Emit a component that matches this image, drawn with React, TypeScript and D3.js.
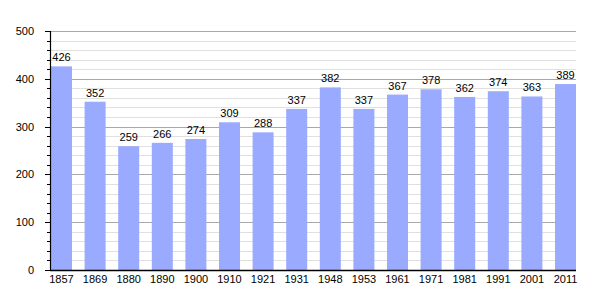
import React from "react";
import * as d3 from "d3";

const years = ["1857","1869","1880","1890","1900","1910","1921","1931","1948","1953","1961","1971","1981","1991","2001","2011"];
const population = [426,352,259,266,274,309,288,337,382,337,367,378,362,374,363,389];
const yTicks = [0,100,200,300,400,500];

export default function App() {
  const W = 605, H = 300;
  const left = 50, right = 576, top = 31, bottom = 270;
  const x = d3.scaleBand<string>().domain(years).range([left + 1, right]).paddingInner(0.375).paddingOuter(0);
  const y = d3.scaleLinear().domain([0, 500]).range([bottom, top]);
  const minor = d3.range(0, 501, 20);
  const font = "'Liberation Sans', Arial, sans-serif";
  return (
    <svg width={W} height={H} style={{ position: "absolute", left: 0, top: 0, background: "#fff" }}>
      {minor.filter(v => v % 100 !== 0).map(v => (
        <line key={"g" + v} x1={left} x2={right} y1={Math.round(y(v)) + 0.5} y2={Math.round(y(v)) + 0.5} stroke="#e0e0e0" strokeWidth={1} />
      ))}
      {yTicks.filter(v => v !== 0).map(v => (
        <line key={"G" + v} x1={left} x2={right} y1={Math.round(y(v)) + 0.5} y2={Math.round(y(v)) + 0.5} stroke="#a8a8a8" strokeWidth={1} />
      ))}
      {years.map((yr, i) => (
        <rect key={yr} x={x(yr)} y={y(population[i])} width={x.bandwidth()} height={bottom - y(population[i])} fill="#99aaff" />
      ))}
      {years.map((yr, i) => (
        <text key={"v" + yr} x={(x(yr) as number) + x.bandwidth() / 2} y={y(population[i]) - 5} textAnchor="middle" fontFamily={font} fontSize={11} fill="#000">{population[i]}</text>
      ))}
      {minor.map(v => (
        <line key={"t" + v} x1={v % 100 === 0 ? left - 5 : left - 3} x2={left} y1={Math.round(y(v)) + 0.5} y2={Math.round(y(v)) + 0.5} stroke="#000" strokeWidth={1} />
      ))}
      {yTicks.map(v => (
        <text key={"l" + v} x={left - 16} y={y(v) + 4} textAnchor="end" fontFamily={font} fontSize={11} fill="#000">{v}</text>
      ))}
      <line x1={left + 0.5} x2={left + 0.5} y1={top} y2={bottom} stroke="#000" strokeWidth={1.2} />
      <line x1={left} x2={right} y1={bottom + 0.5} y2={bottom + 0.5} stroke="#000" strokeWidth={1.5} />
      {years.map(yr => (
        <text key={"x" + yr} x={(x(yr) as number) + x.bandwidth() / 2} y={283} textAnchor="middle" fontFamily={font} fontSize={11} fill="#000">{yr}</text>
      ))}
    </svg>
  );
}
